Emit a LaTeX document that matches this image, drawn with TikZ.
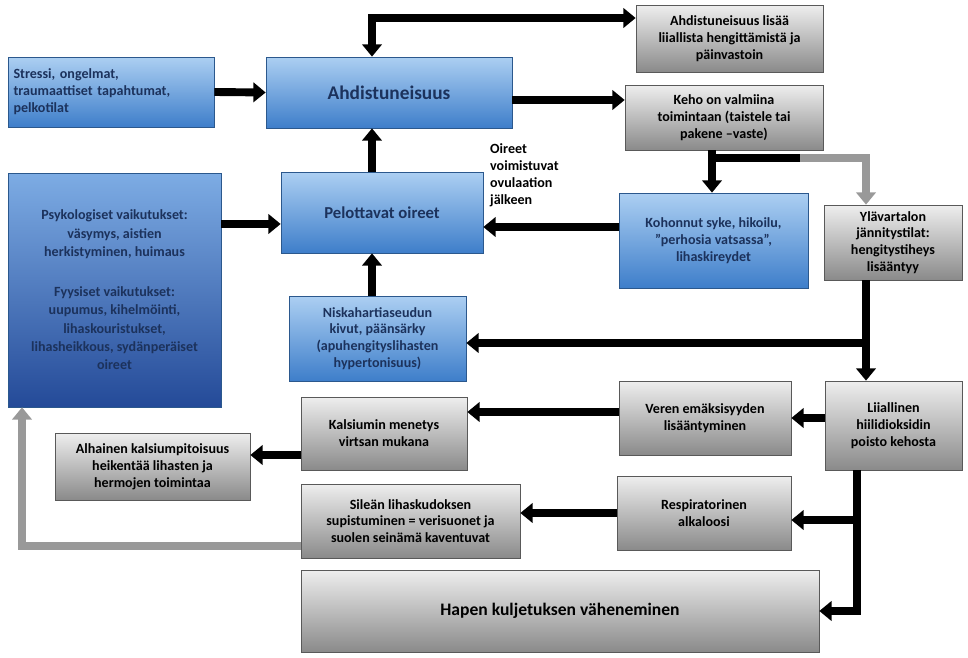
\documentclass[tikz,border=0pt]{standalone}
\usepackage{fontspec}
\setmainfont{Carlito}
\usetikzlibrary{arrows.meta}
\definecolor{bluetop}{RGB}{172,207,242}
\definecolor{bluebot}{RGB}{62,126,202}
\definecolor{navytop}{RGB}{125,172,228}
\definecolor{navybot}{RGB}{36,74,152}
\definecolor{graytop}{RGB}{238,238,238}
\definecolor{graybot}{RGB}{138,138,138}
\definecolor{bluetext}{RGB}{28,50,92}
\tikzstyle{bluebox} = [rectangle, draw=bluebot!70!black, top color=bluetop, bottom color=bluebot, text=bluetext, font=\fontsize{8}{9.6}\selectfont\bfseries, align=center, inner sep=2pt]
\tikzstyle{graybox} = [rectangle, draw=gray!70!black, top color=graytop, bottom color=graybot, text=black, font=\fontsize{8}{9.6}\selectfont\bfseries, align=center, inner sep=2pt]
\tikzstyle{arr} = [line width=4.5pt, -{Triangle[length=7pt,width=11pt]}]
\tikzstyle{garr} = [arr, draw=gray!80]
\begin{document}
\begin{tikzpicture}[x=0.02cm, y=-0.02cm]
\useasboundingbox (0,0) rectangle (968,658);
% laatikot
\node (stress) [bluebox, minimum width=4.12cm, minimum height=1.4cm, align=left, text width=3.9cm] at (111,92) {Stressi, ongelmat,\\traumaattiset tapahtumat,\\pelkotilat};
\node (ahd) [bluebox, minimum width=4.92cm, minimum height=1.42cm, font=\fontsize{11}{13}\selectfont\bfseries] at (389,92.5) {Ahdistuneisuus};
\node (lisaa) [graybox, minimum width=3.74cm, minimum height=1.34cm] at (729.5,38.5) {Ahdistuneisuus lisää\\liiallista hengittämistä ja\\päinvastoin};
\node (keho) [graybox, minimum width=3.96cm, minimum height=1.3cm] at (724,117.5) {Keho on valmiina\\toimintaan (taistele tai\\pakene --vaste)};
\node (psyk) [bluebox, top color=navytop, bottom color=navybot, minimum width=4.26cm, minimum height=4.68cm, font=\fontsize{8}{10.5}\selectfont\bfseries] at (114.5,290) {Psykologiset vaikutukset:\\väsymys, aistien\\herkistyminen, huimaus\\[12pt]Fyysiset vaikutukset:\\uupumus, kihelmöinti,\\lihaskouristukset,\\lihasheikkous, sydänperäiset\\oireet};
\node (pel) [bluebox, minimum width=4.04cm, minimum height=1.62cm, font=\fontsize{9.5}{11}\selectfont\bfseries] at (382,212.5) {Pelottavat oireet};
\node (oir) [anchor=west, align=left, font=\fontsize{8}{9.6}\selectfont\bfseries] at (484,175) {Oireet\\voimistuvat\\ovulaation\\jälkeen};
\node (kohon) [bluebox, minimum width=3.78cm, minimum height=1.9cm] at (713.5,240.5) {Kohonnut syke, hikoilu,\\”perhosia vatsassa”,\\lihaskireydet};
\node (yla) [graybox, minimum width=2.76cm, minimum height=1.5cm] at (893,242.5) {Ylävartalon\\jännitystilat:\\hengitystiheys\\lisääntyy};
\node (niska) [bluebox, minimum width=3.54cm, minimum height=1.7cm] at (377.5,338.5) {Niskahartiaseudun\\kivut, päänsärky\\(apuhengityslihasten\\hypertonisuus)};
\node (kals) [graybox, minimum width=3.32cm, minimum height=1.46cm] at (384,433.5) {Kalsiumin menetys\\virtsan mukana};
\node (veren) [graybox, minimum width=3.44cm, minimum height=1.48cm] at (705,418) {Veren emäksisyyden\\lisääntyminen};
\node (liial) [graybox, minimum width=2.74cm, minimum height=1.78cm] at (893.5,425.5) {Liiallinen\\hiilidioksidin\\poisto kehosta};
\node (alh) [graybox, minimum width=3.9cm, minimum height=1.34cm] at (152.5,466.5) {Alhainen kalsiumpitoisuus\\heikentää lihasten ja\\hermojen toimintaa};
\node (sile) [graybox, minimum width=4.38cm, minimum height=1.48cm] at (410.5,521) {Sileän lihaskudoksen\\supistuminen = verisuonet ja\\suolen seinämä kaventuvat};
\node (resp) [graybox, minimum width=3.48cm, minimum height=1.48cm] at (704,513) {Respiratorinen\\alkaloosi};
\node (hapen) [graybox, minimum width=10.36cm, minimum height=1.64cm, font=\fontsize{10}{12}\selectfont\bfseries] at (560,611) {Hapen kuljetuksen väheneminen};
\coordinate (loop) at (372,18);
\coordinate (kt) at (712,158);
\coordinate (kg) at (800,158);
\coordinate (br) at (866,343);
\coordinate (rb) at (857,520);

% nuolet
\draw [arr] (stress.east) -- (ahd.west);
\draw [arr] ([yshift=-.15cm]ahd.east) -- ([yshift=-.15cm]ahd.east -| keho.west);
\draw [arr, {Triangle[length=7pt,width=11pt]}-{Triangle[length=7pt,width=11pt]}] ([xshift=-.34cm]ahd.north) -- (loop) -- (loop -| lisaa.west);
\draw [arr] ([xshift=-.2cm]pel.north) -- ([xshift=-.2cm]pel.north |- ahd.south);
\draw [arr] ([yshift=-.23cm]pel.west -| psyk.east) -- ([yshift=-.23cm]pel.west);
\draw [arr] ([yshift=.27cm]kohon.west) -- ([yshift=.27cm]kohon.west -| pel.east);
\draw [arr] ([xshift=-.11cm]niska.north) -- ([xshift=-.11cm]niska.north |- pel.south);
\draw [garr] (kg) -| ([xshift=-.54cm]yla.north);
\draw [line width=4.5pt] (kt) -- (kg);
\draw [arr] ([xshift=-.24cm]keho.south) -- ([xshift=-.24cm]keho.south |- kohon.north);
\draw [arr] ([xshift=-.54cm]yla.south) -- ([xshift=-.54cm]yla.south |- liial.north);
\draw [arr] (br) -- (br -| niska.east);
\draw [arr] (liial.west |- veren.east) -- (veren.east);
\draw [arr] ([yshift=.12cm]veren.west) -- ([yshift=.12cm]veren.west -| kals.east);
\draw [arr] ([yshift=.23cm]alh.east -| kals.west) -- ([yshift=.23cm]alh.east);
\draw [arr] ([xshift=-.73cm]liial.south) |- (hapen.east);
\draw [arr] (rb) -- (rb -| resp.east);
\draw [arr] (resp.west) -- (resp.west -| sile.east);
\draw [garr] ([yshift=-.5cm]sile.west) -| ([xshift=-1.85cm]psyk.south);
\end{tikzpicture}
\end{document}
